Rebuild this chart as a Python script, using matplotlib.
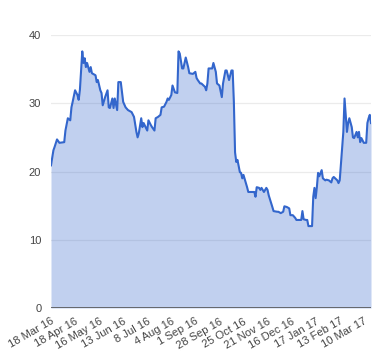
import matplotlib
matplotlib.use("Agg")
import matplotlib.pyplot as plt

# trading-day index and price
dias = [0, 2, 3, 5, 7, 11, 12, 14, 16, 17, 18, 20, 22, 23, 24, 26, 27, 28, 29, 30,
        32, 33, 34, 37, 38, 39, 41, 42, 43, 45, 47, 48, 49, 51, 52, 53, 55, 56, 58, 60,
        62, 64, 67, 69, 71, 72, 73, 75, 76, 77, 80, 81, 83, 84, 86, 87, 89, 91, 92, 94,
        96, 97, 98, 100, 101, 103, 105, 106, 107, 109, 110, 112, 114, 115, 118, 120, 121, 122, 124, 125,
        128, 129, 130, 131, 134, 135, 137, 138, 140, 142, 143, 145, 146, 148, 150, 151, 152, 153, 154, 155,
        157, 158, 159, 160, 162, 163, 164, 167, 169, 170, 171, 173, 174, 175, 177, 179, 180, 181, 183, 184,
        185, 188, 189, 191, 193, 194, 196, 198, 199, 201, 203, 204, 208, 209, 210, 212, 213, 214, 217, 218,
        219, 220, 221, 222, 223, 225, 226, 228, 229, 231, 233, 234, 235, 238, 239, 240, 243, 244, 246, 247,
        248, 250, 251, 252, 254, 255, 256, 257, 258, 260, 262, 263, 264, 265, 266]
precio = [20.9, 23.1, 23.6, 24.7, 24.2, 24.3, 26.0, 27.8, 27.5, 29.4, 30.2, 31.9, 31.2, 30.5, 31.9, 37.6, 35.9, 36.6, 35.3, 35.9,
          34.6, 35.3, 34.4, 34.1, 33.1, 33.4, 31.9, 31.5, 29.7, 30.9, 31.9, 29.4, 29.3, 30.7, 29.3, 30.7, 29.0, 33.1, 33.1, 30.2,
          29.4, 29.0, 28.7, 28.0, 25.8, 25.0, 25.6, 27.8, 26.5, 27.1, 26.0, 27.5, 26.8, 26.5, 26.0, 27.8, 28.0, 28.3, 29.4, 29.5,
          30.2, 30.7, 30.5, 31.2, 32.6, 31.6, 31.5, 37.6, 37.3, 35.1, 35.1, 36.7, 35.3, 34.4, 34.3, 34.6, 33.7, 33.4, 32.9, 32.9,
          32.4, 31.9, 32.9, 35.1, 35.1, 35.9, 34.6, 32.9, 32.6, 30.9, 32.9, 34.8, 34.8, 33.4, 34.8, 34.8, 30.2, 22.8, 21.4, 21.7,
          19.9, 19.8, 19.0, 19.5, 18.3, 17.7, 17.0, 17.0, 17.0, 16.3, 17.7, 17.6, 17.3, 17.6, 17.0, 17.6, 17.3, 16.5, 15.4, 14.8,
          14.2, 14.1, 14.1, 13.9, 14.1, 14.9, 14.8, 14.6, 13.6, 13.6, 13.2, 12.9, 12.9, 14.2, 13.0, 12.9, 12.9, 12.0, 12.0, 16.3,
          17.6, 16.1, 17.7, 19.8, 19.3, 20.2, 19.0, 18.7, 18.8, 18.7, 18.4, 19.0, 19.2, 18.7, 18.3, 18.7, 25.8, 30.7, 25.8, 27.1,
          27.8, 26.5, 25.0, 24.9, 25.8, 25.0, 25.8, 24.3, 24.9, 24.2, 24.2, 27.1, 27.8, 28.3, 27.1]

etiquetas = ["18 Mar 16", "18 Apr 16", "16 May 16", "13 Jun 16", "8 Jul 16", "4 Aug 16", "1 Sep 16",
             "28 Sep 16", "25 Oct 16", "21 Nov 16", "16 Dec 16", "17 Jan 17", "13 Feb 17", "10 Mar 17"]
pos_etiquetas = [20 * i for i in range(len(etiquetas))]
marcas_y = [0, 10, 20, 30, 40]

plt.rcParams['font.family'] = ['Liberation Sans', 'DejaVu Sans']

fig = plt.figure(figsize=(3.8, 3.6), dpi=100)
ax = fig.add_axes([51 / 380, 1 - 308 / 360, 320 / 380, 273 / 360])

# area + linea, estilo google charts
ax.fill_between(dias, precio, 0, color='#3366cc', alpha=0.3, lw=0, zorder=2)
ax.plot(dias, precio, color='#3366cc', lw=1.5, zorder=3)

ax.set_xlim(0, 266)
ax.set_ylim(0, 40)

for y in marcas_y[1:]:
    ax.axhline(y, color='#ebebeb', lw=0.9, zorder=1)
ax.axhline(0, color='#555555', lw=1.2, zorder=4)

for s in ax.spines.values():
    s.set_visible(False)

ax.set_yticks(marcas_y)
ax.set_xticks(pos_etiquetas)
ax.set_xticklabels(etiquetas, rotation=30, ha='right', va='top', rotation_mode='anchor')
ax.tick_params(axis='both', length=0, labelsize=8, colors='#444444')
ax.tick_params(axis='y', pad=7)
ax.tick_params(axis='x', pad=6)

fig.savefig("out.png", dpi=100)
